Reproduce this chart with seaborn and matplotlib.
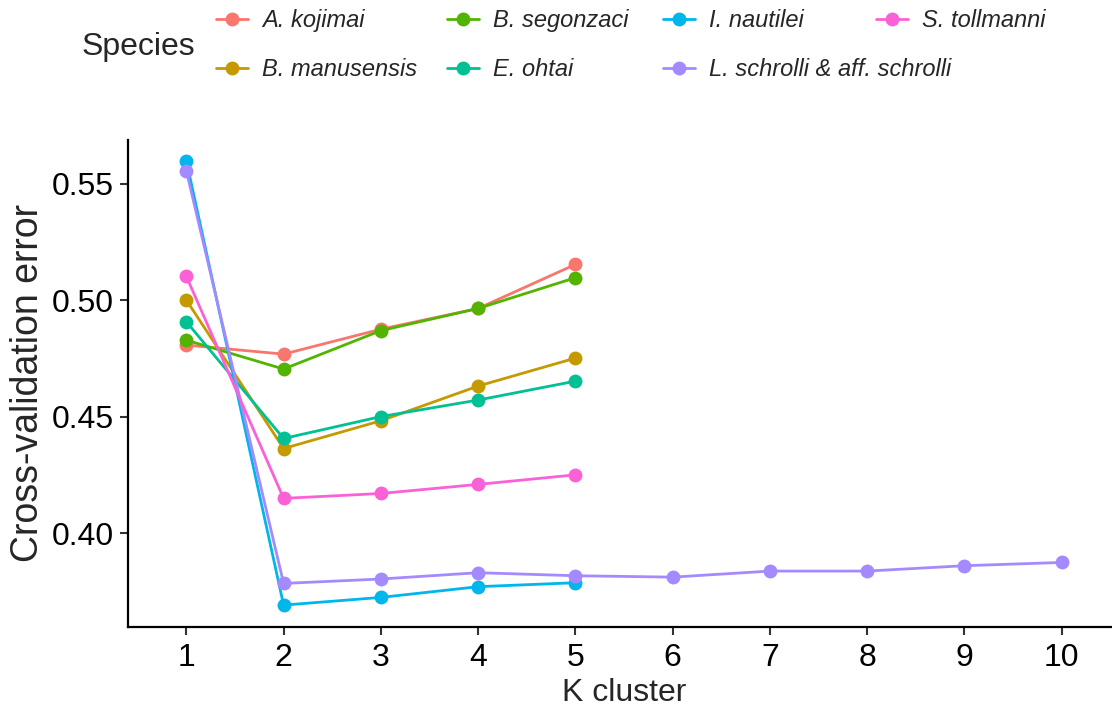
import matplotlib
matplotlib.use("Agg")
import matplotlib.pyplot as plt
import seaborn as sns
import pandas as pd

# Cross-validation error per number of ancestral clusters (K), by species
species = [
    "A. kojimai", "B. manusensis", "B. segonzaci", "E. ohtai",
    "I. nautilei", "L. schrolli & aff. schrolli", "S. tollmanni",
]
k_short = [1, 2, 3, 4, 5]
k_long = [1, 2, 3, 4, 5, 6, 7, 8, 9, 10]

a_kojimai = [0.4807, 0.4768, 0.4875, 0.4964, 0.5153]
b_manusensis = [0.5000, 0.4363, 0.4482, 0.4631, 0.4751]
b_segonzaci = [0.4828, 0.4704, 0.4869, 0.4964, 0.5096]
e_ohtai = [0.4907, 0.4406, 0.4500, 0.4571, 0.4652]
i_nautilei = [0.5597, 0.3691, 0.3724, 0.3770, 0.3787]
l_schrolli = [0.5555, 0.3784, 0.3803, 0.3830, 0.3817,
              0.3811, 0.3837, 0.3837, 0.3860, 0.3874]
s_tollmanni = [0.5102, 0.4149, 0.4170, 0.4209, 0.4250]

palette = ["#F8766D", "#C49A00", "#53B400", "#00C094",
           "#00B6EB", "#A58AFF", "#FB61D7"]

series = [a_kojimai, b_manusensis, b_segonzaci, e_ohtai,
          i_nautilei, l_schrolli, s_tollmanni]
rows = []
for name, vals in zip(species, series):
    ks = k_long if len(vals) == len(k_long) else k_short
    for k, v in zip(ks, vals):
        rows.append({"Species": name, "K": k, "CV": v})
df = pd.DataFrame(rows)

sns.set_theme(style="ticks")
plt.rcParams["font.family"] = ["Liberation Sans", "DejaVu Sans"]

W, H = 1112, 711
fig = plt.figure(figsize=(W / 100, H / 100), dpi=100)
ax = fig.add_axes([128 / W, 1 - 627 / H, (1120 - 128) / W, (627 - 140) / H])

sns.lineplot(data=df, x="K", y="CV", hue="Species", hue_order=species,
             palette=palette, marker="o", markersize=10, markeredgewidth=0,
             linewidth=2, ax=ax, legend=True)

ax.set_xlim(0.4, 10.6)
ax.set_ylim(0.3597, 0.5687)
ax.set_xticks(k_long)
ax.set_xticklabels([str(k) for k in k_long])
ax.set_yticks([0.40, 0.45, 0.50, 0.55])
ax.set_yticklabels(["0.40", "0.45", "0.50", "0.55"])
ax.tick_params(axis="both", labelsize=23, length=6, width=1.5,
               color="#333333", labelcolor="black", pad=4)
ax.tick_params(axis="x", pad=5.5)
for side in ("top", "right"):
    ax.spines[side].set_visible(False)
for side in ("left", "bottom"):
    ax.spines[side].set_linewidth(1.6)
    ax.spines[side].set_color("black")
ax.set_xlabel("K cluster", fontsize=23, labelpad=3.5)
ax.set_ylabel("Cross-validation error", fontsize=27, labelpad=4)

handles, labels = ax.get_legend_handles_labels()
ax.get_legend().remove()

# Legend arranged in columns above the panel, with the title on the left
fig.text(82 / W, 1 - 47 / H, "Species", fontsize=23, va="center", ha="left")
columns = [[0, 1], [2, 3], [4, 5], [6]]
col_x = [216, 447, 663, 876]
for idx, x in zip(columns, col_x):
    fig.legend([handles[i] for i in idx], [labels[i] for i in idx],
               loc="upper left", bbox_to_anchor=(x / W, 1 - 9 / H),
               frameon=False, borderpad=0, borderaxespad=0,
               handlelength=1.36, handletextpad=0.6, labelspacing=1.1,
               prop={"style": "italic", "size": 17})

fig.savefig("out.png", dpi=100)
